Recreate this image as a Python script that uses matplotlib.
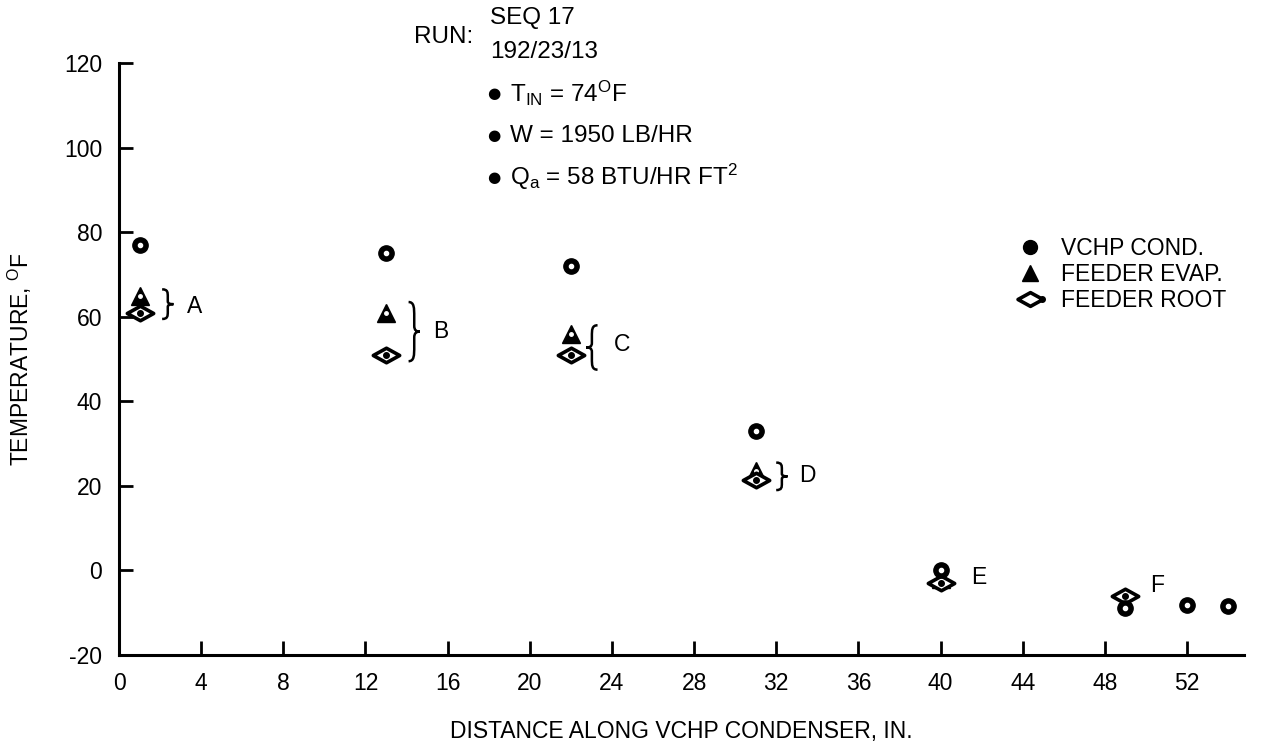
import numpy as np
import matplotlib
matplotlib.use('Agg')
import matplotlib.pyplot as plt
from matplotlib.path import Path
from matplotlib.patches import PathPatch
from matplotlib.lines import Line2D
from matplotlib.legend_handler import HandlerTuple

plt.rcParams['font.family'] = ['Liberation Sans', 'DejaVu Sans']
plt.rcParams['mathtext.fontset'] = 'custom'
plt.rcParams['mathtext.rm'] = 'Liberation Sans'
plt.rcParams['mathtext.it'] = 'Liberation Sans'
plt.rcParams['axes.unicode_minus'] = False

# ---- data ----
cond_x = [1, 13, 22, 31, 40, 49, 52, 54]
cond_y = [77, 75, 72, 33, 0, -9, -8.3, -8.5]
evap_x = [1, 13, 22, 31, 40]
evap_y = [65, 61, 56, 23.5, -2]
root_x = [1, 13, 22, 31, 40, 49]
root_y = [61, 51, 51, 21.5, -3, -6]
group_labels = ['A', 'B', 'C', 'D', 'E', 'F']
group_label_x = [3.3, 15.3, 24.1, 33.1, 41.5, 50.2]
group_label_y = [62.5, 56.5, 53.5, 22.5, -1.7, -3.5]
brace_x = [2.1, 14.1, 23.3, 32.0]
brace_lo = [59.5, 49.5, 47.5, 19.0]
brace_hi = [66.5, 63.5, 58.0, 25.5]
brace_dir = [1, 1, -1, 1]
x_ticks = list(range(0, 53, 4))
y_ticks = list(range(-20, 121, 20))

FS = 16.5

fig = plt.figure(figsize=(12.66, 7.45), dpi=100)
ax = fig.add_axes([0.094, 0.121, 0.889, 0.794])
ax.set_xlim(0, 54.8)
ax.set_ylim(-20, 120)

for s in ['top', 'right']:
    ax.spines[s].set_visible(False)
for s in ['left', 'bottom']:
    ax.spines[s].set_linewidth(2.2)
ax.set_xticks(x_ticks)
ax.set_yticks(y_ticks)
ax.tick_params(direction='in', length=10, width=2, labelsize=FS)
ax.tick_params(axis='y', pad=12)
ax.tick_params(axis='x', pad=12)

diamond = Path([(-1, 0), (0, 0.55), (1, 0), (0, -0.55), (-1, 0)],
               [Path.MOVETO, Path.LINETO, Path.LINETO, Path.LINETO, Path.CLOSEPOLY])

# feeder evap (triangles)
ax.plot(evap_x, evap_y, ls='none', marker='^', ms=13, color='black', zorder=3)
ax.plot(evap_x, evap_y, ls='none', marker='o', ms=2.5, color='white', zorder=3.1)
# feeder root (diamonds)
ax.plot(root_x, root_y, ls='none', marker=diamond, ms=19, mfc='white', mec='black', mew=2.6, zorder=4)
ax.plot(root_x, root_y, ls='none', marker='o', ms=4, color='black', zorder=4.1)
# vchp cond (circles)
ax.plot(cond_x, cond_y, ls='none', marker='o', ms=11, color='black', zorder=5)
ax.plot(cond_x, cond_y, ls='none', marker='o', ms=3, color='white', zorder=5.1)


def brace(x, y1, y2, d, w=0.55):
    pts = [(0, 0), (0.5, 0), (0.5, 0.1), (0.5, 0.25), (0.5, 0.4),
           (0.5, 0.48), (0.7, 0.5), (1, 0.5), (0.7, 0.5), (0.5, 0.52), (0.5, 0.6),
           (0.5, 0.75), (0.5, 0.9), (0.5, 1), (0, 1)]
    codes = [Path.MOVETO, Path.CURVE4, Path.CURVE4, Path.CURVE4, Path.LINETO,
             Path.CURVE4, Path.CURVE4, Path.CURVE4, Path.CURVE4, Path.CURVE4, Path.CURVE4,
             Path.LINETO, Path.CURVE4, Path.CURVE4, Path.CURVE4]
    verts = [(x + u * w * d, y1 + v * (y2 - y1)) for u, v in pts]
    ax.add_patch(PathPatch(Path(verts, codes), fill=False, lw=1.8, color='black'))


for bx, lo, hi, d in zip(brace_x, brace_lo, brace_hi, brace_dir):
    brace(bx, lo, hi, d)

for lab, lx, ly in zip(group_labels, group_label_x, group_label_y):
    ax.text(lx, ly, lab, fontsize=FS, va='center', ha='left')

ax.set_ylabel(r'TEMPERATURE, $^{\mathregular{O}}$F', fontsize=FS, labelpad=22)
ax.set_xlabel('DISTANCE ALONG VCHP CONDENSER, IN.', fontsize=FS, labelpad=18)

# legend
h_cond = (Line2D([], [], ls='none', marker='o', ms=10, color='black'),
          Line2D([], [], ls='none', marker='o', ms=3, color='white'))
h_evap = (Line2D([], [], ls='none', marker='^', ms=12, color='black'),
          Line2D([], [], ls='none', marker='o', ms=2.5, color='white'))
h_root = (Line2D([], [], ls='none', marker=diamond, ms=18, mfc='white', mec='black', mew=2.6),
          Line2D([], [], ls='none', marker='o', ms=4, color='black'))
ax.legend([h_cond, h_evap, h_root], ['VCHP COND.', 'FEEDER EVAP.', 'FEEDER ROOT'],
          handler_map={tuple: HandlerTuple(ndivide=None)},
          loc='upper left', bbox_to_anchor=(1012 / 1266, 1 - 226 / 745),
          bbox_transform=fig.transFigure, frameon=False, fontsize=FS,
          handlelength=1.1, handletextpad=0.55, labelspacing=0.12, borderpad=0)

# run annotation
FA = 17.5
fig.text(414 / 1266, 1 - 37 / 745, 'RUN:', fontsize=FA, va='center', ha='left')
fig.text(490 / 1266, 1 - 18 / 745, 'SEQ 17', fontsize=FA, va='center', ha='left')
fig.text(490 / 1266, 1 - 52 / 745, '192/23/13', fontsize=FA, va='center', ha='left')
notes = [r'T$_{\mathregular{IN}}$ = 74$^{\mathregular{O}}$F',
         'W = 1950 LB/HR',
         r'Q$_{\mathregular{a}}$ = 58 BTU/HR FT$^{\mathregular{2}}$']
for yy, t in zip([93, 136, 177], notes):
    fig.text(494 / 1266, 1 - yy / 745, '\u25CF', fontsize=11, va='center', ha='center',
             family=['DejaVu Sans'])
    fig.text(510 / 1266, 1 - yy / 745, t, fontsize=FA, va='center', ha='left')

fig.savefig('out.png', dpi=100)
